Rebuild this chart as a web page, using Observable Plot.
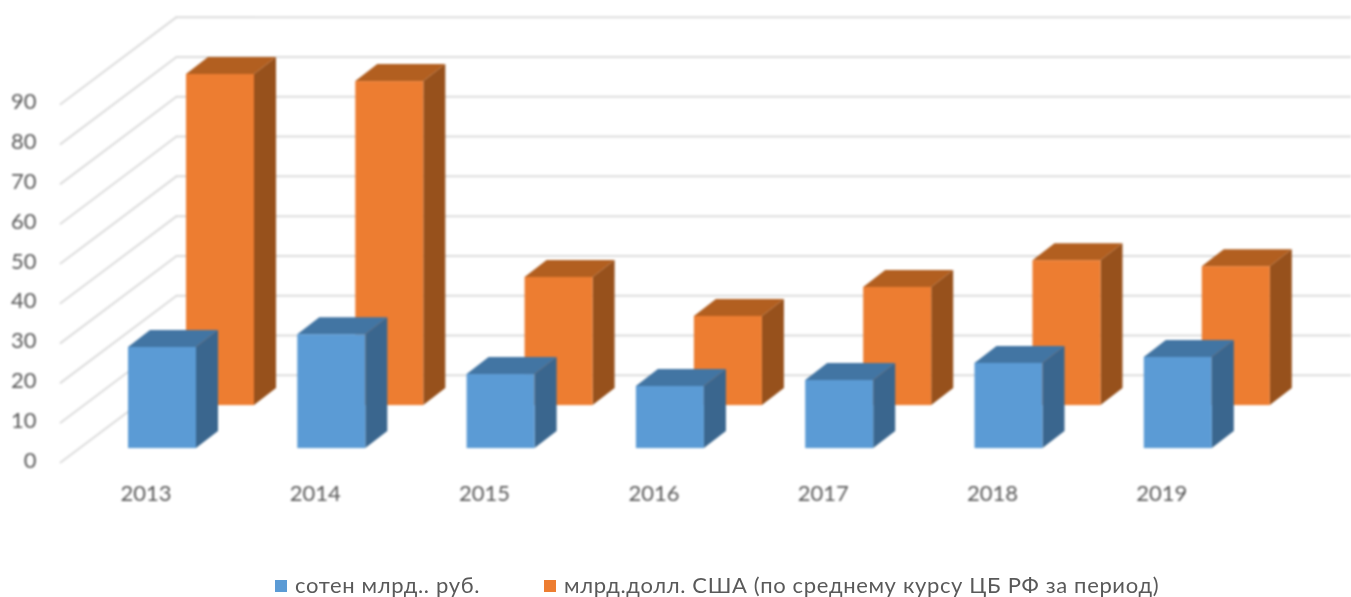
<!DOCTYPE html>
<html><head><meta charset="utf-8">
<script src="https://cdn.jsdelivr.net/npm/d3@7"></script>
<script src="https://cdn.jsdelivr.net/npm/@observablehq/plot@0.6"></script>
<style>
html,body{margin:0;padding:0;background:#fff;overflow:hidden}
#chart svg{display:block;filter:blur(.8px)}
#legend{position:relative;height:27px;overflow:hidden;font:22px Lato,sans-serif;color:#595959;filter:blur(.7px)}
#legend span{position:absolute;white-space:nowrap;top:3px;line-height:23px;letter-spacing:.65px}
#legend i{position:absolute;width:12px;height:12px;top:10px}
</style></head><body>
<div id="chart"></div>
<div id="legend">
<i style="left:275px;background:#5B9BD5"></i><span style="left:295px" id="l1"></span>
<i style="left:544px;background:#ED7D31"></i><span style="left:564px" id="l2"></span>
</div>
<script>
const years = [2013, 2014, 2015, 2016, 2017, 2018, 2019];
const rub = [25.4, 28.6, 18.6, 15.6, 17.1, 21.4, 22.9];
const usd = [83.2, 81.4, 32.2, 22.4, 29.7, 36.4, 34.9];
const yTicks = [0, 10, 20, 30, 40, 50, 60, 70, 80, 90];
const rubName = "сотен млрд.. руб.";
const usdName = "млрд.долл. США (по среднему курсу ЦБ РФ за период)";

document.getElementById("l1").textContent = rubName;
document.getElementById("l2").textContent = usdName;

// projection constants, in data units
const barW = 0.4017, depthX = 0.13, depthY = 4.27;
const wallX = 0.685, wallY = 21.9;       // depth of the whole chart box
const frontX = 2013 - 0.5047;            // where the floor starts
const endX = 2013 + 7.12;

function bars(values, off, base) {
  return values.map((v, i) => ({year: years[i], l: years[i] + off, r: years[i] + off + barW, base, top: base + v}));
}
function sideFace(b) {
  return [
    {id: b.year, x: b.r, y1: b.base, y2: b.top},
    {id: b.year, x: b.r + depthX, y1: b.base + depthY, y2: b.top + depthY}
  ];
}
function topFace(b) {
  const t = b.top, u = b.top + depthY;
  return [
    {id: b.year, x: b.l, y1: t, y2: t},
    {id: b.year, x: b.l + depthX, y1: t, y2: u},
    {id: b.year, x: b.r, y1: t, y2: u},
    {id: b.year, x: b.r + depthX, y1: u, y2: u}
  ];
}
function barMarks(data, front, side, top) {
  const area = (d, fill) => Plot.areaY(d, {x: "x", y1: "y1", y2: "y2", z: "id", fill, curve: "linear"});
  return [
    area(data.flatMap(sideFace), side),
    area(data.flatMap(topFace), top),
    Plot.rect(data, {x1: "l", x2: "r", y1: "base", y2: "top", fill: front})
  ];
}
const backBars = bars(usd, 0.2392, 14.3);
const frontBars = bars(rub, -0.1034, 3.5);

const diag = yTicks.flatMap(t => [
  {t, x: frontX, y: t},
  {t, x: frontX + wallX, y: t + wallY}
]);
const wall = yTicks.flatMap(t => [
  {t, x: frontX + wallX, y: t + wallY},
  {t, x: endX, y: t + wallY}
]);

const plot = Plot.plot({
  width: 1351, height: 570,
  marginLeft: 40, marginRight: 0, marginTop: 0, marginBottom: 97,
  x: {type: "linear", domain: [2013 - 105.5 / 169.3, 2013 + 1205.5 / 169.3]},
  y: {type: "linear", domain: [-11 / 3.98, 462 / 3.98]},
  style: {fontFamily: "Lato, sans-serif", background: "#fff"},
  marks: [
    Plot.line(diag, {x: "x", y: "y", z: "t", stroke: "#dcdcdc", strokeWidth: 2}),
    Plot.line(wall, {x: "x", y: "y", z: "t", stroke: "#dcdcdc", strokeWidth: 2}),
    ...barMarks(backBars, "#ED7D31", "#97511C", "#B25F20"),
    ...barMarks(frontBars, "#5B9BD5", "#3A668E", "#4275A3"),
    Plot.axisY({ticks: yTicks, tickSize: 0, tickPadding: 4, label: null, fontSize: 22, color: "#595959", dy: -2}),
    Plot.axisX({ticks: years, tickFormat: "d", tickSize: 0, tickPadding: 12, label: null, fontSize: 22, color: "#595959"})
  ]
});
document.getElementById("chart").appendChild(plot);
</script>
</body></html>
